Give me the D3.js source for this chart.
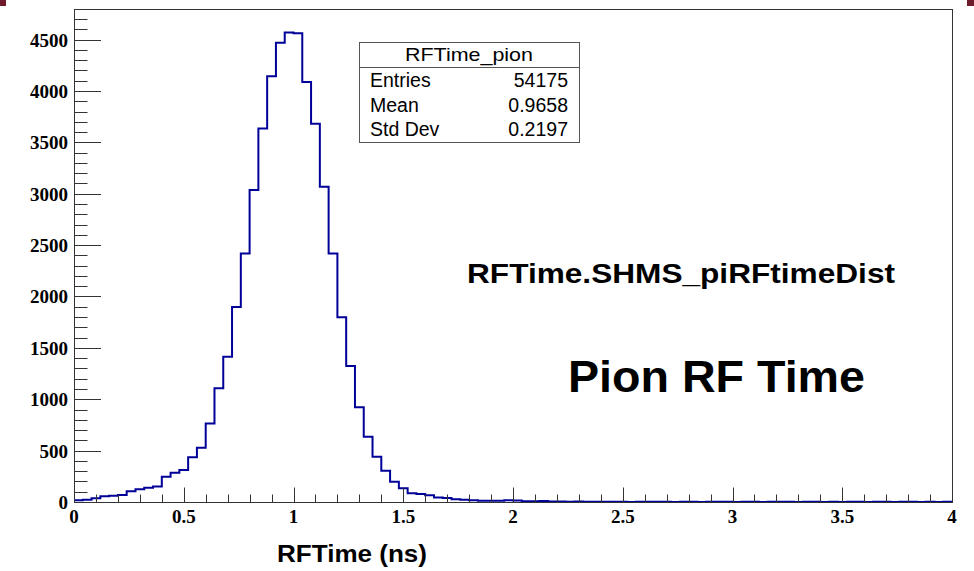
<!DOCTYPE html>
<html>
<head>
<meta charset="utf-8">
<script src="https://cdn.jsdelivr.net/npm/d3@7"></script>
<style>
  body { margin: 0; background: #fff; }
  svg { display: block; }
</style>
</head>
<body>
<div id="chart"></div>
<script>
// histogram: 100 bins of 0.04 ns from 0 to 4
const binLow = 0;
const binWidth = 0.04;
const binCounts = [
  18, 22, 36, 56, 60, 68, 105, 125, 138, 150,
  246, 285, 311, 435, 528, 765, 1106, 1414, 1897, 2419,
  3035, 3635, 4144, 4468, 4569, 4562, 4086, 3680, 3067, 2419,
  1797, 1323, 921, 636, 441, 305, 198, 133, 84, 78,
  65, 45, 38, 26, 22, 18, 13, 12, 12, 16,
  15, 8, 8, 9, 5, 4, 3, 4, 2, 3,
  2, 2, 3, 1, 2, 2, 3, 2, 1, 2,
  2, 1, 3, 2, 2, 1, 2, 2, 1, 2,
  3, 2, 1, 2, 2, 1, 2, 1, 2, 2,
  1, 3, 2, 1, 2, 2, 1, 2, 1, 2
];
const xTicks = [0, 0.5, 1, 1.5, 2, 2.5, 3, 3.5, 4];
const yTicks = [0, 500, 1000, 1500, 2000, 2500, 3000, 3500, 4000, 4500];
const statsTitle = "RFTime_pion";
const statsRows = [["Entries", "54175"], ["Mean", "0.9658"], ["Std Dev", "0.2197"]];

const W = 974, H = 571;
const frame = { left: 74, right: 952, top: 9, bottom: 502 };
const sans = "'Liberation Sans', Arial, sans-serif";
const serif = "'Liberation Serif', 'Times New Roman', serif";

const svg = d3.select("#chart").append("svg")
    .attr("width", W)
    .attr("height", H);

// little maroon corners of the page
svg.append("rect").attr("x", 0).attr("y", 0).attr("width", 6).attr("height", 6).attr("fill", "#6e1b2b");
svg.append("rect").attr("x", W - 7).attr("y", 0).attr("width", 7).attr("height", 6).attr("fill", "#6e1b2b");

const x = d3.scaleLinear().domain([0, 4]).range([frame.left, frame.right]);
const yMax = d3.max(binCounts) * 1.05;
const y = d3.scaleLinear().domain([0, yMax]).range([frame.bottom, frame.top]);

// histogram outline (step line)
const pts = [];
binCounts.forEach((c, i) => {
    const x0 = binLow + i * binWidth;
    pts.push([x0, c]);
    pts.push([x0 + binWidth, c]);
});
svg.append("path")
    .attr("d", d3.line().x(d => x(d[0])).y(d => y(d[1]))(pts))
    .attr("fill", "none")
    .attr("stroke", "#000099")
    .attr("stroke-width", 2);

// frame
svg.append("rect")
    .attr("x", frame.left + 0.5).attr("y", frame.top + 0.5)
    .attr("width", frame.right - frame.left).attr("height", frame.bottom - frame.top)
    .attr("fill", "none")
    .attr("stroke", "#333")
    .attr("stroke-width", 1);

// y axis ticks
const yMinor = d3.range(0, 4800, 100);
svg.append("g").selectAll("line")
    .data(yMinor)
    .join("line")
    .attr("x1", frame.left)
    .attr("x2", d => frame.left + (d % 500 === 0 ? 27 : 13.5))
    .attr("y1", d => Math.round(y(d)) + 0.5)
    .attr("y2", d => Math.round(y(d)) + 0.5)
    .attr("stroke", "#333");

svg.append("g").selectAll("text")
    .data(yTicks)
    .join("text")
    .attr("x", frame.left - 6)
    .attr("y", d => y(d) + 7)
    .attr("text-anchor", "end")
    .style("font-family", serif)
    .style("font-weight", "bold")
    .style("font-size", "19px")
    .text(d => d);

// x axis ticks
const xMinor = d3.range(0, 41).map(i => i / 10);
svg.append("g").selectAll("line")
    .data(xMinor)
    .join("line")
    .attr("x1", d => Math.round(x(d)) + 0.5)
    .attr("x2", d => Math.round(x(d)) + 0.5)
    .attr("y1", frame.bottom)
    .attr("y2", (d, i) => frame.bottom - (i % 5 === 0 ? 14.5 : 7.5))
    .attr("stroke", "#333");

svg.append("g").selectAll("text")
    .data(xTicks)
    .join("text")
    .attr("x", d => x(d))
    .attr("y", 523)
    .attr("text-anchor", "middle")
    .style("font-family", serif)
    .style("font-weight", "bold")
    .style("font-size", "19px")
    .text(d => d);

// x axis title
svg.append("text")
    .attr("x", 277)
    .attr("y", 562)
    .attr("textLength", 150)
    .attr("lengthAdjust", "spacingAndGlyphs")
    .style("font-family", sans)
    .style("font-weight", "bold")
    .style("font-size", "24px")
    .text("RFTime (ns)");

// stats box
const sb = { x: 359.5, y: 42.5, w: 220, h: 100 };
const stats = svg.append("g");
stats.append("rect")
    .attr("x", sb.x).attr("y", sb.y)
    .attr("width", sb.w).attr("height", sb.h)
    .attr("fill", "#fff")
    .attr("stroke", "#555");
stats.append("line")
    .attr("x1", sb.x).attr("x2", sb.x + sb.w)
    .attr("y1", 67.5).attr("y2", 67.5)
    .attr("stroke", "#555");
stats.append("text")
    .attr("x", 405)
    .attr("y", 61)
    .attr("textLength", 128)
    .attr("lengthAdjust", "spacingAndGlyphs")
    .style("font-family", sans)
    .style("font-size", "19px")
    .text(statsTitle);
statsRows.forEach((r, i) => {
    stats.append("text")
        .attr("x", 370)
        .attr("y", 87 + i * 24.5)
        .style("font-family", sans)
        .style("font-size", "19.5px")
        .text(r[0]);
    stats.append("text")
        .attr("x", 568)
        .attr("y", 87 + i * 24.5)
        .attr("text-anchor", "end")
        .style("font-family", sans)
        .style("font-size", "19.5px")
        .text(r[1]);
});

// labels inside the pad
svg.append("text")
    .attr("x", 467)
    .attr("y", 283)
    .attr("textLength", 428)
    .attr("lengthAdjust", "spacingAndGlyphs")
    .style("font-family", sans)
    .style("font-weight", "bold")
    .style("font-size", "28px")
    .text("RFTime.SHMS_piRFtimeDist");

svg.append("text")
    .attr("x", 568)
    .attr("y", 392)
    .attr("textLength", 297)
    .attr("lengthAdjust", "spacingAndGlyphs")
    .style("font-family", sans)
    .style("font-weight", "bold")
    .style("font-size", "44px")
    .text("Pion RF Time");
</script>
</body>
</html>
